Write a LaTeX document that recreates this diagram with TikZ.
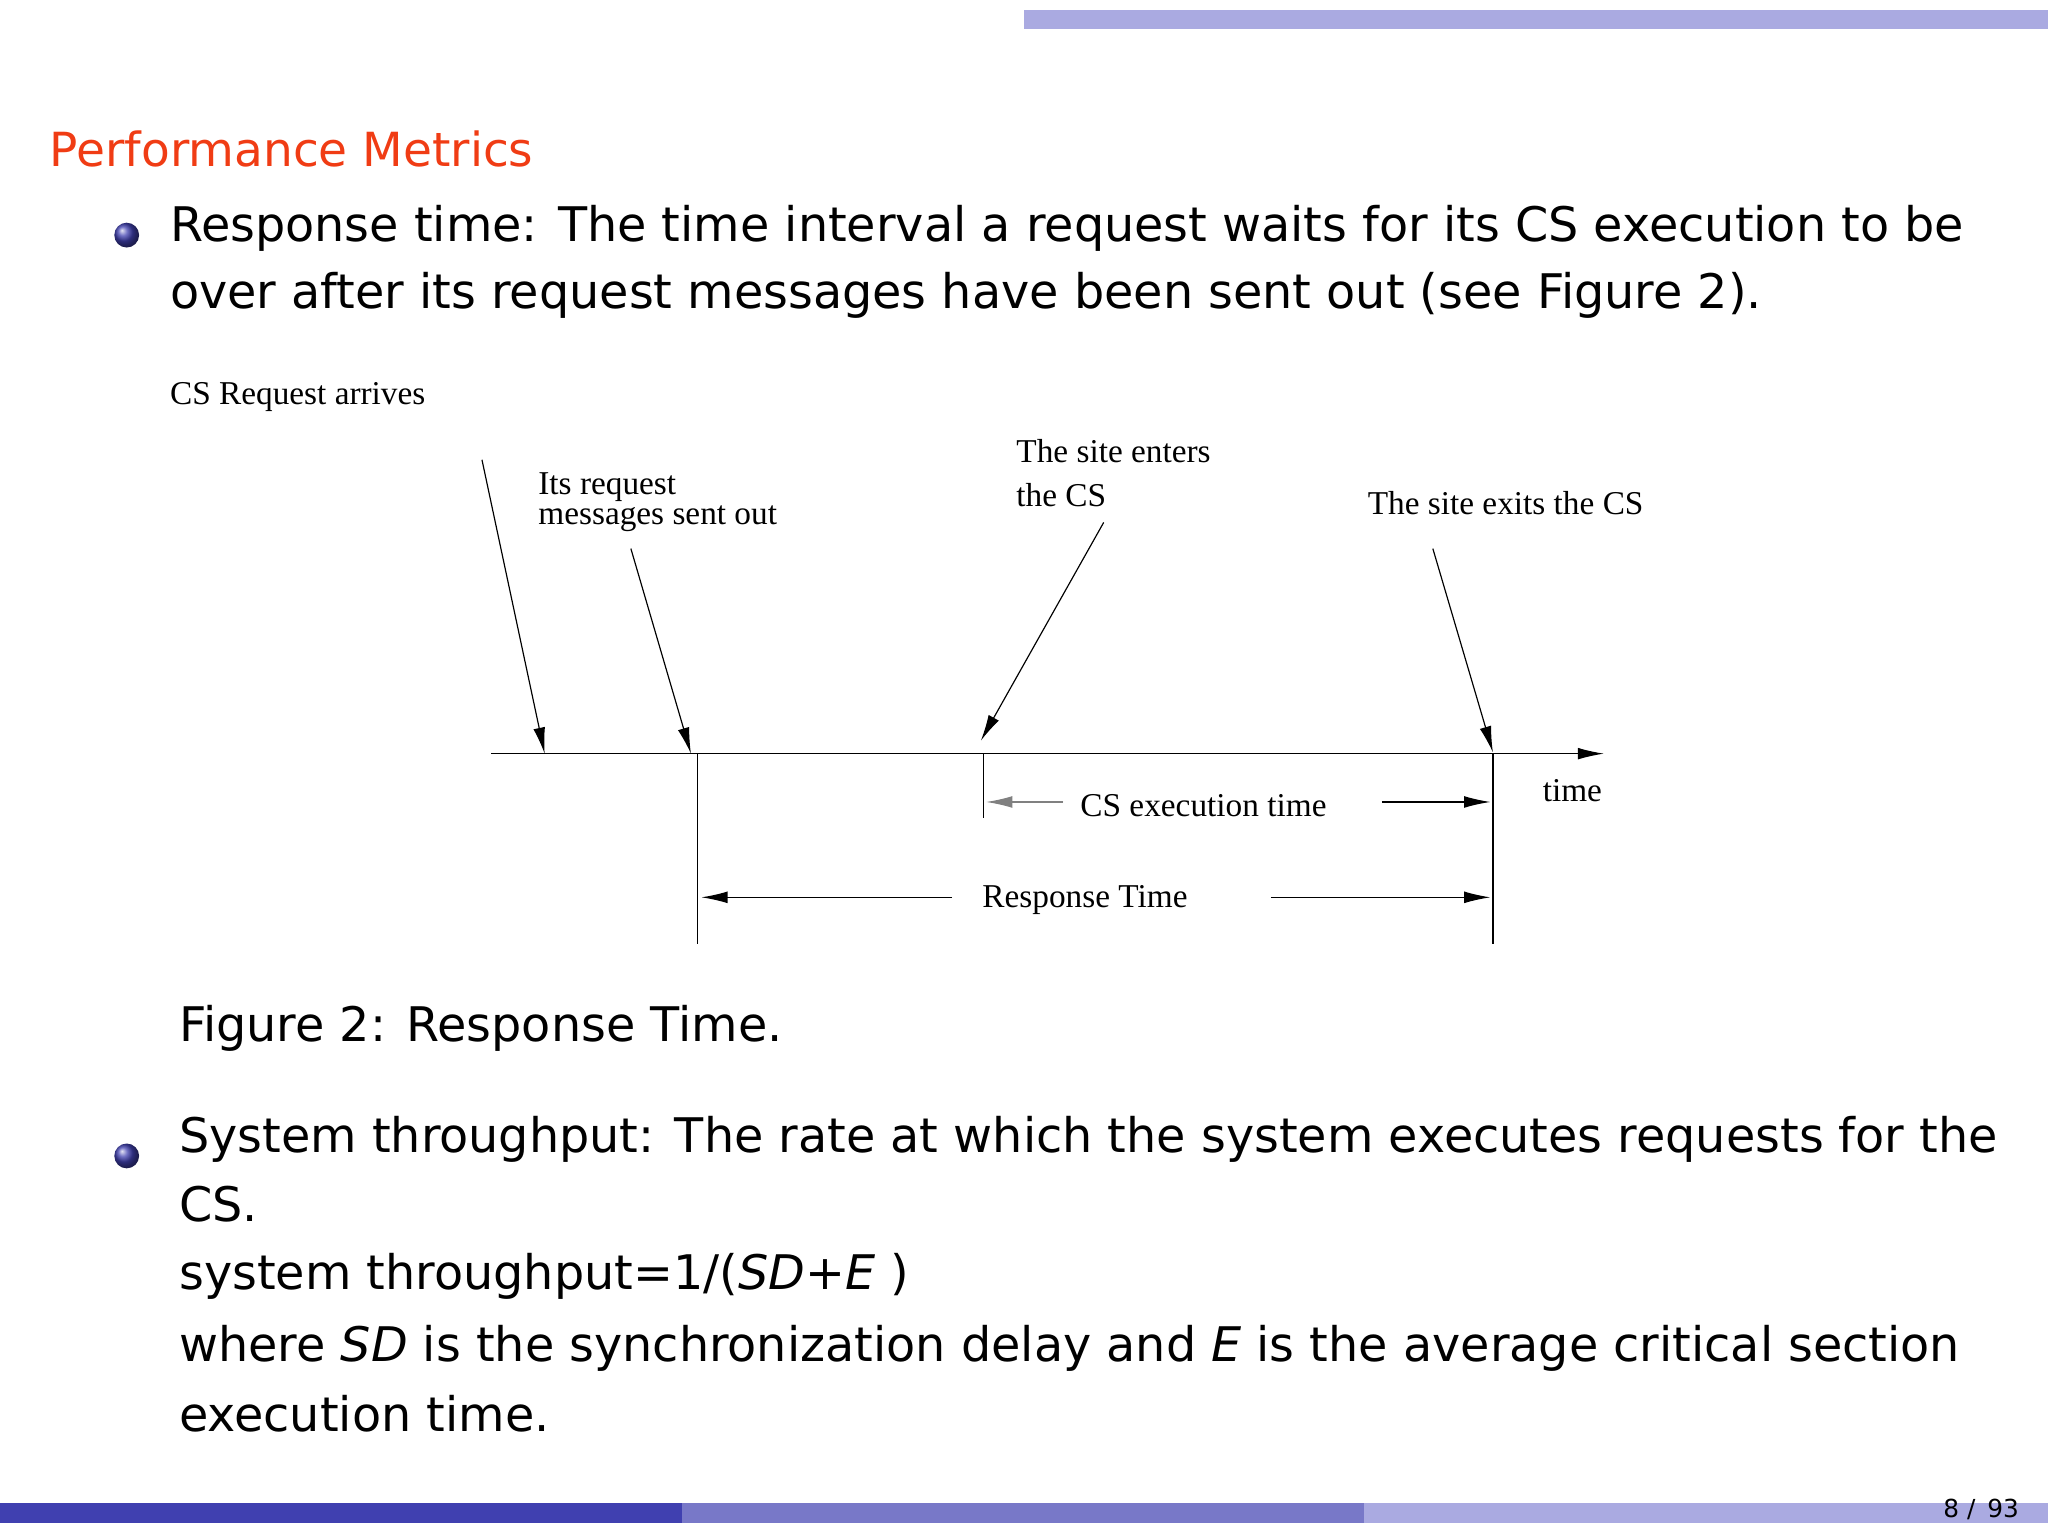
\documentclass[tikz,border=0pt]{standalone}
\usepackage{fontspec}
\setmainfont{Liberation Serif}
\newfontfamily\bodyf{DejaVu Sans}
\usetikzlibrary{arrows.meta}
\definecolor{barA}{RGB}{64,64,176}
\definecolor{barB}{RGB}{120,120,200}
\definecolor{barC}{RGB}{170,170,225}
\definecolor{titlec}{RGB}{240,60,20}
\tikzset{
 body/.style={anchor=west,inner sep=0pt,font=\bodyf\fontsize{36.5}{42}\selectfont},
 dia/.style={anchor=west,inner sep=0pt,font=\fontsize{25.5}{28}\selectfont},
 ln/.style={line width=0.9pt},
 ar/.style={ln,-{Latex[length=20pt,width=9pt]}},
 ball/.style={circle,minimum size=19pt,inner sep=0pt,ball color=barA}
}
\begin{document}
\begin{tikzpicture}[x=1pt,y=-1pt]
\useasboundingbox (0,0) rectangle (1568,1176);
\fill[barC] (784,8) rectangle (1568,22);
\fill[barA] (0,1151) rectangle (522,1166);
\fill[barB] (522,1151) rectangle (1044,1166);
\fill[barC] (1044,1151) rectangle (1568,1166);
\node[anchor=east,inner sep=0pt,font=\bodyf\fontsize{19}{20}\selectfont] (pg) at (1546,1156) {8 / \,93};
\node[anchor=west,inner sep=0pt,text=titlec,font=\bodyf\fontsize{36}{40}\selectfont] (title) at (38,114) {Performance Metrics};
\node[ball] (b1) at (97,180) {};
\node[body] (r1) at (130,175) {Response time: The time interval a request waits for its CS execution to be};
\node[body] (r2) at (130,226) {over after its request messages have been sent out (see Figure 2).};
% diagram
\node[dia] (req) at (130,304) {CS Request arrives};
\node[dia] (its1) at (412,373) {Its request};
\node[dia] (its2) at (412,397) {messages sent out};
\node[dia] (ent1) at (778,345) {The site enters};
\node[dia] (ent2) at (778,379) {the CS};
\node[dia] (exit) at (1047,385) {The site exits the CS};
\node[dia] (tm) at (1181,605) {time};
\coordinate (a0) at (376,577); \coordinate (a1) at (1228,577);
\draw[ar] (a0) -- (a1);
\coordinate (s1) at (369,352); \coordinate (e1) at (417,577);
\coordinate (s2) at (483,420); \coordinate (e2) at (529,577);
\coordinate (s3) at (845,400); \coordinate (e3) at (751,567);
\coordinate (s4) at (1097,420); \coordinate (e4) at (1143,576);
\draw[ar] (s1) -- (e1);
\draw[ar] (s2) -- (e2);
\draw[ar] (s3) -- (e3);
\draw[ar] (s4) -- (e4);
\coordinate (t1a) at (534,577); \coordinate (t1b) at (534,723);
\coordinate (t2a) at (753,577); \coordinate (t2b) at (753,626);
\coordinate (t3a) at (1143,577); \coordinate (t3b) at (1143,723);
\draw[ln] (t1a) -- (t1b); \draw[ln] (t2a) -- (t2b); \draw[ln] (t3a) -- (t3b);
\node[dia] (cse) at (827,617) {CS execution time};
\coordinate (c1) at (814,614); \coordinate (c2) at (755,614);
\coordinate (c3) at (1058,614); \coordinate (c4) at (1141,614);
\draw[ar,draw=gray,fill=black] (c1) -- (c2);
\draw[ar] (c3) -- (c4);
\node[dia] (rt) at (752,689) {Response Time};
\coordinate (d1) at (729,687); \coordinate (d2) at (537,687);
\coordinate (d3) at (973,687); \coordinate (d4) at (1141,687);
\draw[ar] (d1) -- (d2);
\draw[ar] (d3) -- (d4);
\node[body] (fig) at (137,787) {Figure 2: Response Time.};
\node[ball] (b2) at (97,885) {};
\node[body] (s1t) at (137,872) {System throughput: The rate at which the system executes requests for the};
\node[body] (s2t) at (137,922) {CS.};
\node[body] (s3t) at (137,977) {system throughput=1/(\textit{SD}+\textit{E} )};
\node[body] (s4t) at (137,1032) {where \textit{SD} is the synchronization delay and \textit{E} is the average critical section};
\node[body] (s5t) at (137,1082) {execution time.};
\end{tikzpicture}
\end{document}
